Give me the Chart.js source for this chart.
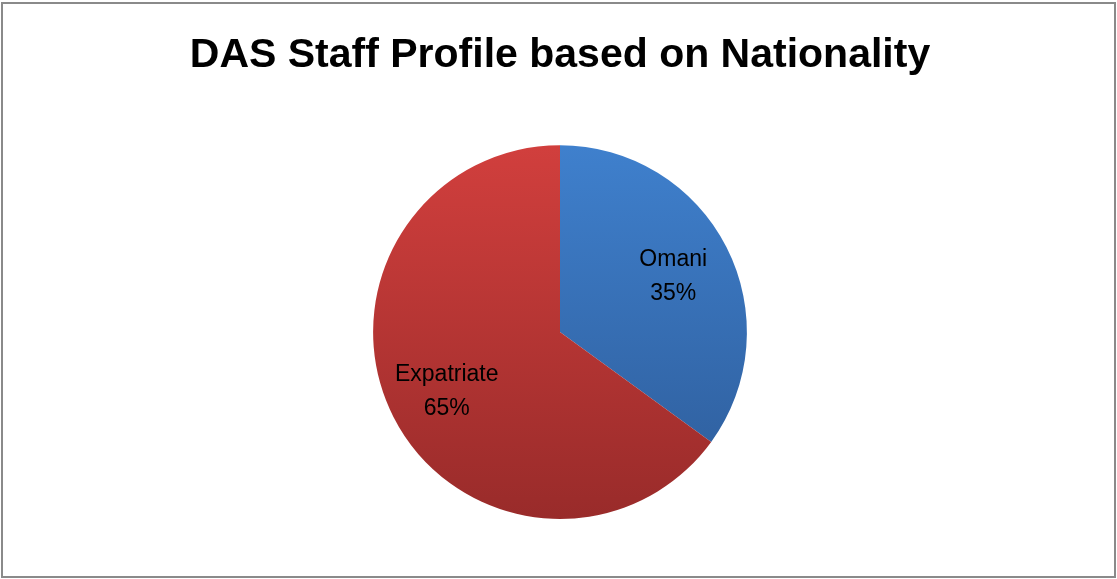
<!DOCTYPE html>
<html>
<head>
<meta charset="utf-8">
<script src="https://cdn.jsdelivr.net/npm/chart.js@4"></script>
<style>
  body { margin: 0; background: #fff; }
  #wrap { position: relative; width: 1117px; height: 579px; }
  #frame {
    position: absolute; left: 1px; top: 2px;
    width: 1111px; height: 572px;
    border: 2px solid #8a8a8a; pointer-events: none;
  }
</style>
</head>
<body>
<div id="wrap">
  <canvas id="pieChart" width="1117" height="579"></canvas>
  <div id="frame"></div>
</div>
<script>
const categories = ["Omani", "Expatriate"];
const shares = [35, 65];
const topColors = ["#3f80cd", "#d13f3d"];
const bottomColors = ["#2d5b98", "#992b2a"];

const sliceFill = context => {
    const area = context.chart.chartArea;
    if (!area) return topColors[context.dataIndex];
    const g = context.chart.ctx.createLinearGradient(0, area.top, 0, area.bottom);
    g.addColorStop(0, topColors[context.dataIndex]);
    g.addColorStop(1, bottomColors[context.dataIndex]);
    return g;
};

// labels inside the slices: name + percent
const sliceLabels = {
    id: "sliceLabels",
    afterDatasetsDraw(chart) {
        const c = chart.ctx;
        const meta = chart.getDatasetMeta(0);
        const total = shares.reduce((a, b) => a + b, 0);
        c.save();
        c.fillStyle = "#000";
        c.font = "23px 'Liberation Sans', Arial, sans-serif";
        c.textAlign = "center";
        c.textBaseline = "middle";
        meta.data.forEach((arc, i) => {
            const p = arc.getProps(["x", "y", "startAngle", "endAngle", "outerRadius"], true);
            const mid = (p.startAngle + p.endAngle) / 2;
            const r = p.outerRadius * 0.68;
            const x = p.x + Math.cos(mid) * r;
            const y = p.y + Math.sin(mid) * r + 2;
            const pct = Math.round(shares[i] / total * 100) + "%";
            c.fillText(categories[i], x, y - 17);
            c.fillText(pct, x, y + 17);
        });
        c.restore();
    }
};

new Chart(document.getElementById("pieChart"), {
    type: "pie",
    data: {
        labels: categories,
        datasets: [{
            data: shares,
            backgroundColor: sliceFill,
            borderWidth: 0
        }]
    },
    options: {
        responsive: false,
        devicePixelRatio: 1,
        animation: false,
        layout: { padding: { left: 3, right: 0, top: 0, bottom: 60 } },
        plugins: {
            legend: { display: false },
            tooltip: { enabled: false },
            title: {
                display: true,
                text: "DAS Staff Profile based on Nationality",
                color: "#000",
                font: { family: "'Liberation Sans', Arial, sans-serif", size: 41, weight: "bold", lineHeight: 1.2 },
                padding: { top: 31, bottom: 65 }
            }
        }
    },
    plugins: [sliceLabels]
});
</script>
</body>
</html>
